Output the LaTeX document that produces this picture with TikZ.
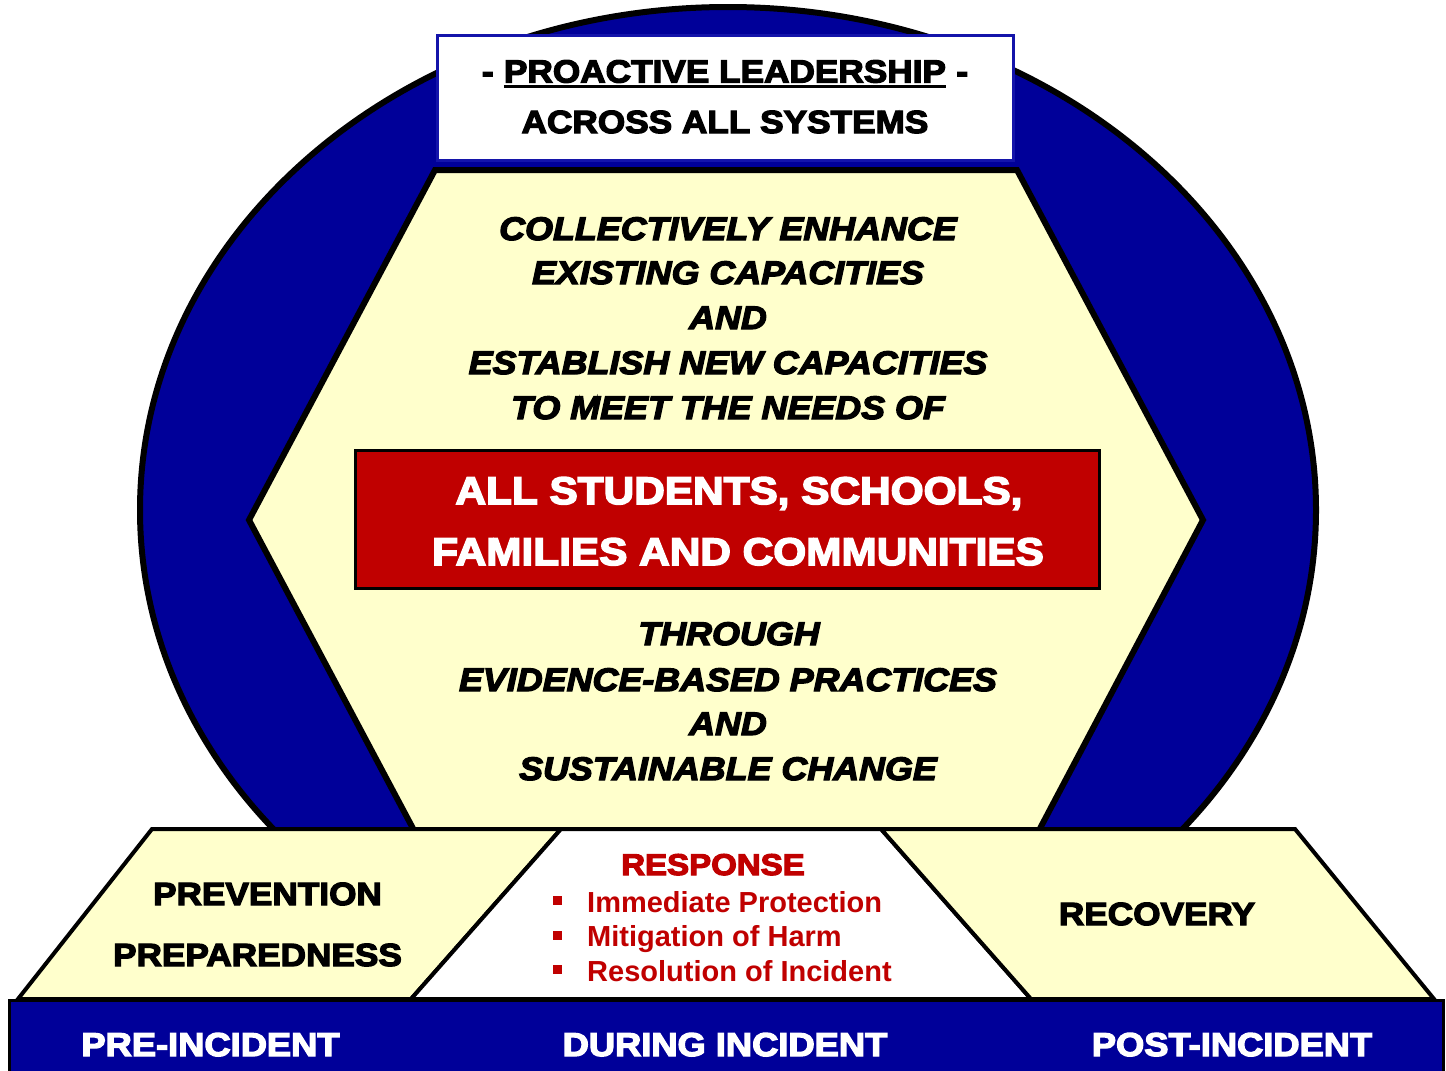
\documentclass[tikz,border=0pt]{standalone}
\usepackage{fontspec}
\newfontfamily\blk{Liberation Sans Bold}[FakeStretch=1.1,FakeBold=4]
\newfontfamily\blkit{Liberation Sans Bold Italic}[FakeStretch=1.1,FakeBold=4]
\newfontfamily\arb{Liberation Sans Bold}
\definecolor{navy}{RGB}{0,0,153}
\definecolor{hdrblue}{RGB}{20,20,170}
\definecolor{pale}{RGB}{255,255,204}
\definecolor{redd}{RGB}{192,0,0}
\tikzset{
  hv/.style={font=\blk\fontsize{32}{38}\selectfont, anchor=base, inner sep=0pt},
  hvi/.style={font=\blkit\fontsize{32.6}{38}\selectfont, anchor=base, inner sep=0pt},
  hvr/.style={font=\blk\fontsize{38.5}{44}\selectfont, anchor=base, inner sep=0pt, text=white},
  hvb/.style={font=\blk\fontsize{33}{38}\selectfont, anchor=base, inner sep=0pt, text=white},
  item/.style={font=\arb\fontsize{29}{34}\selectfont, anchor=base west, inner sep=0pt, text=redd},
  thick6/.style={line width=6pt, draw=black, line join=miter},
  trap/.style={line width=4pt, draw=black, line join=miter}
}
\newcommand\bul{\raisebox{7pt}{\rule{9pt}{9pt}}\hspace{25pt}}
\begin{document}
\begin{tikzpicture}[x=1pt,y=-1pt]
\useasboundingbox (0,0) rectangle (1446,1071);
% big ellipse
\draw[thick6, fill=navy] (728,510) ellipse [x radius=588pt, y radius=503pt];
% header box
\draw[line width=3pt, draw=hdrblue, fill=white] (437,35) rectangle (1013,160);
\node[hv] (h1) at (725,82.5) {PROACTIVE LEADERSHIP};
\node[hv, anchor=base east] (h1l) at ([xshift=-10pt]h1.base west) {-};
\node[hv, anchor=base west] (h1r) at ([xshift=10pt]h1.base east) {-};
\draw[line width=2.2pt] ([yshift=-4pt]h1.base west) -- ([yshift=-4pt]h1.base east);
\node[hv] (h2) at (725,133) {ACROSS ALL SYSTEMS};
% hexagon
\draw[thick6, fill=pale] (435,170) -- (1017,170) -- (1203,520) -- (1036,836) -- (417,836) -- (249,520) -- cycle;
\node[hvi] (t1) at (728,240) {COLLECTIVELY ENHANCE};
\node[hvi] (t2) at (728,284) {EXISTING CAPACITIES};
\node[hvi] (t3) at (728,329) {AND};
\node[hvi] (t4) at (728,374) {ESTABLISH NEW CAPACITIES};
\node[hvi] (t5) at (728,419) {TO MEET THE NEEDS OF};
% red box
\draw[line width=3pt, draw=black, fill=redd] (355,450) rectangle (1099,588);
\node[hvr] (r1) at (739,504) {ALL STUDENTS, SCHOOLS,};
\node[hvr] (r2) at (738,565) {FAMILIES AND COMMUNITIES};
\node[hvi] (b1) at (729,645) {THROUGH};
\node[hvi] (b2) at (728,691) {EVIDENCE-BASED PRACTICES};
\node[hvi] (b3) at (728,735) {AND};
\node[hvi] (b4) at (728,780) {SUSTAINABLE CHANGE};
% bottom trapezoids
\draw[trap, fill=pale] (152,829) -- (561,829) -- (411,999) -- (18,999) -- cycle;
\draw[trap, fill=white] (561,829) -- (881,829) -- (1031,999) -- (411,999) -- cycle;
\draw[trap, fill=pale] (881,829) -- (1295,829) -- (1434,999) -- (1031,999) -- cycle;
\node[hv] (p1) at (267.5,905) {PREVENTION};
\node[hv] (p2) at (257.5,966) {PREPAREDNESS};
\node[hv] (rc) at (1157,925) {RECOVERY};
\node[hv, text=redd, font=\blk\fontsize{30}{36}\selectfont] (rs) at (713,875) {RESPONSE};
\node[item] (i1) at (553,912) {\bul Immediate Protection};
\node[item] (i2) at (553,946.5) {\bul Mitigation of Harm};
\node[item] (i3) at (553,981) {\bul Resolution of Incident};
% bottom bar
\draw[line width=3pt, draw=black, fill=navy] (9,1000) rectangle (1443,1076);
\node[hvb] (pre) at (210.5,1056) {PRE-INCIDENT};
\node[hvb] (dur) at (725,1056) {DURING INCIDENT};
\node[hvb] (post) at (1232,1056) {POST-INCIDENT};
\end{tikzpicture}
\end{document}
